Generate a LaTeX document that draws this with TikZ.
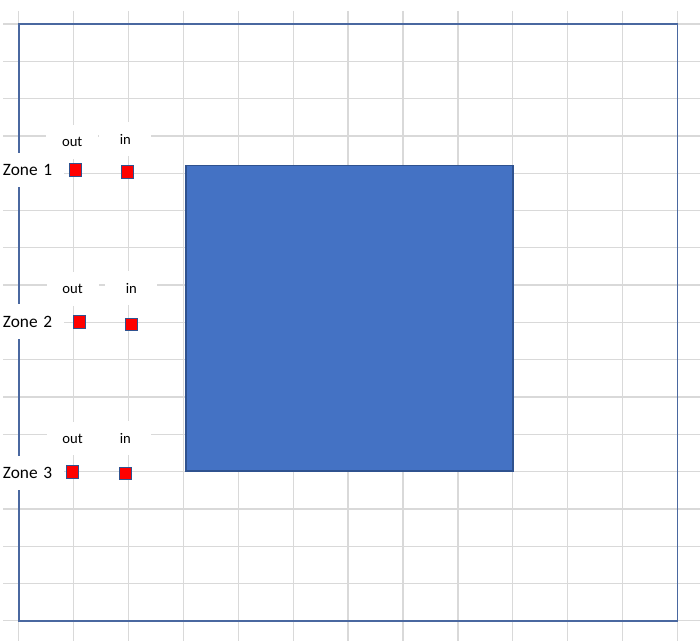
\documentclass[tikz,border=0pt]{standalone}
\usepackage{fontspec}
\setmainfont{Carlito}
\definecolor{gridgray}{HTML}{D9D9D9}
\definecolor{frameblue}{HTML}{4A68A0}
\definecolor{plateblue}{HTML}{4472C4}
\definecolor{edgeblue}{HTML}{2F528F}

\begin{document}
\begin{tikzpicture}[
  x=0.75pt, y=-0.75pt,
  gridline/.style={draw=gridgray, line width=1pt},
  port/.style={draw=edgeblue, fill=red, line width=0.6pt, inner sep=0pt, minimum width=9.5pt, minimum height=10pt},
  inport/.style={port, minimum width=9pt, minimum height=9.5pt},
  lbl/.style={fill=white, inner sep=0pt, minimum width=39pt, minimum height=25pt, font=\fontsize{11}{13}\selectfont},
  zone/.style={fill=white, anchor=west, inner sep=2pt, text width=44pt, align=left, minimum height=26pt, font=\fontsize{13}{15}\selectfont}
]
  \useasboundingbox (0,0) rectangle (700,641);

  % sheet grid
  \foreach \i in {0,...,12}
    \draw[gridline] (18.7+54.9*\i, 11) -- (18.7+54.9*\i, 641);
  \foreach \j in {0,...,16}
    \draw[gridline] (3, 24+37.3*\j) -- (700, 24+37.3*\j);

  % frame
  \draw[frameblue, line width=1.2pt] (18.7,24) rectangle (677.5,620.8);

  % Zone 1
  \node[zone] (zone1) at (0,170) {Zone 1};
  \node[lbl] (out1) at (72.2,142) {out};
  \node[lbl] (in1) at (125.3,139) {in};
  \node[port] (out1sq) at (75.3,170) {};
  \node[inport] (in1sq) at (127.8,172.2) {};

  % Zone 2
  \node[zone] (zone2) at (0,321.5) {Zone 2};
  \node[lbl] (out2) at (72.5,289) {out};
  \node[lbl] (in2) at (131.3,288) {in};
  \node[port] (out2sq) at (79.3,322) {};
  \node[inport] (in2sq) at (131.7,324.3) {};

  % Zone 3
  \node[zone] (zone3) at (0,473) {Zone 3};
  \node[lbl] (out3) at (72.5,438.5) {out};
  \node[lbl] (in3) at (125.3,438) {in};
  \node[port] (out3sq) at (72.5,472) {};
  \node[inport] (in3sq) at (125.5,473.3) {};

  % block
  \draw[edgeblue, fill=plateblue, line width=0.8pt] (186,165.5) rectangle (513,471);
\end{tikzpicture}
\end{document}
